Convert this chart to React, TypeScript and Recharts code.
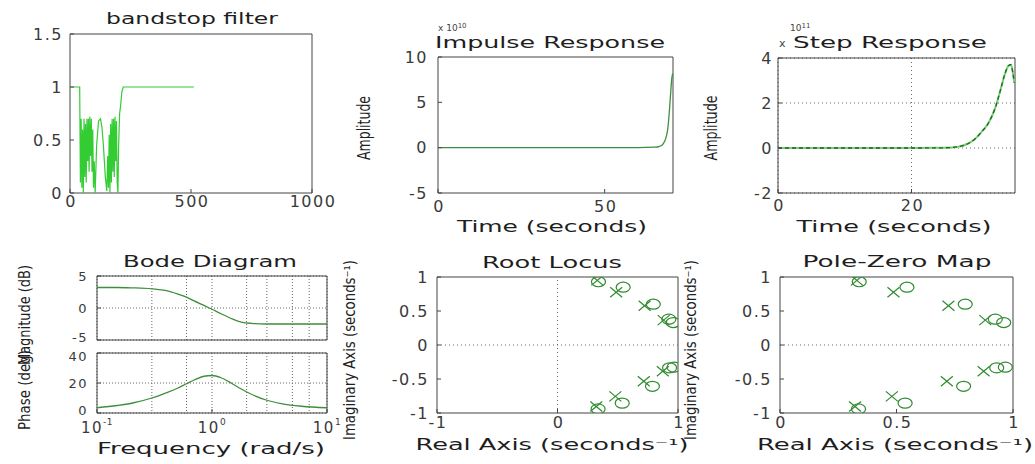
import React from 'react';
import {
  LineChart, Line, ScatterChart, Scatter,
  XAxis, YAxis, CartesianGrid, ReferenceArea, ReferenceLine,
} from 'recharts';

// ── Data ────────────────────────────────────────────────────────────────────

// bandstop filter: sample index vs |H|
const bandstopN = [0, 40, 43, 46, 49, 52, 55, 58, 61, 64, 67, 70, 73, 76, 79, 82, 85, 88, 91, 94, 97, 100, 104, 110, 118, 126, 132, 138, 146, 152, 156, 159, 162, 165, 168, 171, 174, 177, 180, 183, 186, 189, 192, 195, 198, 201, 205, 209, 214, 220, 512];
const bandstopMag = [1, 1, 0.1, 0.7, 0.05, 0.6, 0, 0.7, 0.15, 0.65, 0.1, 0.7, 0.3, 0.7, 0.2, 0.72, 0.35, 0.7, 0.2, 0.6, 0.05, 0.3, 0, 0.45, 0.68, 0.7, 0.62, 0.45, 0.15, 0.02, 0.35, 0.05, 0.55, 0, 0.65, 0.1, 0.7, 0.2, 0.7, 0.15, 0.72, 0.3, 0.68, 0.1, 0, 0.45, 0.75, 0.82, 0.95, 1, 1];
const bandstopXTicks = [0, 500, 1000];
const bandstopYTicks = [0, 0.5, 1, 1.5];

// impulse response (x 10^10)
const impulseT = [0, 20, 40, 60, 65, 66.5, 67.5, 68.3, 68.9, 69.3, 69.7, 70.1, 70.4];
const impulseAmp = [0, 0, 0, 0.01, 0.05, 0.15, 0.4, 1.0, 2.0, 3.5, 5.5, 7.5, 8.2];
const impulseTTicks = [0, 50];
const impulseAmpTicks = [-5, 0, 5, 10];

// step response (x 10^11)
const stepT = [0, 10, 20, 25, 27, 28.5, 29.5, 30.5, 31.5, 32.5, 33.3, 34.0, 34.5, 34.9, 35.2, 35.4];
const stepAmp = [0, 0, 0, 0.01, 0.06, 0.2, 0.4, 0.72, 1.1, 1.75, 2.55, 3.3, 3.65, 3.7, 3.3, 2.9];
const stepTTicks = [0, 20];
const stepAmpTicks = [-2, 0, 2, 4];

// bode diagram
const bodeW = [0.1, 0.15, 0.2, 0.3, 0.4, 0.5, 0.6, 0.7, 0.85, 1, 1.2, 1.5, 1.8, 2.2, 3, 4, 6, 10];
const bodeMag = [3.2, 3.2, 3.15, 3.0, 2.7, 2.2, 1.7, 1.1, 0.4, -0.2, -0.9, -1.7, -2.2, -2.4, -2.5, -2.5, -2.5, -2.5];
const bodePhase = [3.5, 5, 6.5, 10, 13.5, 16.5, 19.5, 22, 24.5, 25, 23.5, 19.5, 16, 12.5, 8.5, 6.3, 4.5, 3.5];
const bodeWTicks = [0.1, 1, 10];
const bodeWGrid = [0.1, 0.2, 0.3, 0.4, 0.5, 0.6, 0.7, 0.8, 0.9, 1, 2, 3, 4, 5, 6, 7, 8, 9, 10];
const bodeMagTicks = [-5, 0, 5];
const bodePhaseTicks = [0, 20, 40];

// poles and zeros
const poleRe = [0.33, 0.487, 0.723, 0.881, 0.874, 0.716, 0.48, 0.322];
const poleIm = [0.95, 0.775, 0.578, 0.366, -0.385, -0.533, -0.756, -0.904];
const zeroRe = [0.34, 0.545, 0.795, 0.924, 0.96, 0.93, 0.967, 0.788, 0.537, 0.337];
const zeroIm = [0.93, 0.85, 0.6, 0.38, 0.33, -0.336, -0.326, -0.607, -0.855, -0.94];
const rlReTicks = [-1, 0, 1];
const pzReTicks = [0, 0.5, 1];
const imTicks = [-1, -0.5, 0, 0.5, 1];

const bandstopData = bandstopN.map((n, i) => ({ x: n, y: bandstopMag[i] }));
const impulseData = impulseT.map((t, i) => ({ x: t, y: impulseAmp[i] }));
const stepData = stepT.map((t, i) => ({ x: t, y: stepAmp[i] }));
const bodeData = bodeW.map((w, i) => ({ w, mag: bodeMag[i], phase: bodePhase[i] }));
const poles = poleRe.map((re, i) => ({ re, im: poleIm[i] }));
const zeros = zeroRe.map((re, i) => ({ re, im: zeroIm[i] }));

// ── Layout / styles ─────────────────────────────────────────────────────────

const PAGE_W = 1035;
const PAGE_H = 464;
const FONT = "'DejaVu Sans', sans-serif";
const TEXT = '#1e1e1e';
const TICK = '#3a3a3a';
const FRAME = '#454545';
const GRID = '#666';
const GREEN = '#33cc33';
const DARKGREEN = '#3d8f3d';
const MARK = '#2f8a2f';

// plot boxes in page pixels
const BOX = {
  band: { l: 70, r: 312, t: 34, b: 193 },
  imp: { l: 438, r: 673, t: 57, b: 193 },
  step: { l: 778, r: 1015, t: 58, b: 193 },
  mag: { l: 97, r: 327, t: 276, b: 340 },
  phase: { l: 97, r: 327, t: 353, b: 413 },
  rl: { l: 437, r: 678, t: 277, b: 413 },
  pz: { l: 780, r: 1013, t: 277, b: 413 },
};

const marginOf = (b: { r: number; t: number }) => ({ top: b.t, right: PAGE_W - b.r, left: 0, bottom: 0 });

// MATLAB style: short ticks pointing into the box
const IN_TICK = -4;
const tickLine = { stroke: FRAME, strokeWidth: 1 };
const tickText = { fontFamily: FONT, fontSize: 16, fill: TICK, letterSpacing: 1.5 };

function LeftTick({ x, y, payload }: any) {
  return (
    <text x={x} y={y} textAnchor="end" dominantBaseline="central" {...tickText}>
      {String(payload.value)}
    </text>
  );
}

// bode y ticks are squeezed between two stacked axes: smaller, and the
// labels at the shared edge are nudged apart
function BodeTick({ x, y, payload, index, visibleTicksCount, edge }: any) {
  let dy = 0;
  if (edge === 'bottom' && index === 0) dy = -3;
  if (edge === 'top' && index === visibleTicksCount - 1) dy = 3;
  if (edge === 'top' && index === 0) dy = -3;
  return (
    <text x={x} y={y + dy} textAnchor="end" dominantBaseline="central" {...tickText} fontSize={13}>
      {String(payload.value)}
    </text>
  );
}

function BottomTick({ x, y, payload }: any) {
  return (
    <text x={x + 1} y={y} textAnchor="middle" dominantBaseline="central" {...tickText}>
      {String(payload.value)}
    </text>
  );
}

const decadeExp: Record<string, string> = { '0.1': '-1', '1': '0', '10': '1' };

function LogTick({ x, y, payload }: any) {
  return (
    <text x={x} y={y} textAnchor="middle" dominantBaseline="central" {...tickText} fontSize={15}>
      10<tspan dy={-6} fontSize={9} letterSpacing={0.5}>{decadeExp[String(payload.value)]}</tspan>
    </text>
  );
}

const NoTick = () => <g />;

function ZeroMark({ cx, cy }: any) {
  return <ellipse cx={cx} cy={cy} rx={7} ry={5} fill="none" stroke={MARK} strokeWidth={1.2} />;
}

function PoleMark({ cx, cy }: any) {
  return (
    <g stroke={MARK} strokeWidth={1.2}>
      <line x1={cx - 6} y1={cy - 5} x2={cx + 6} y2={cy + 5} />
      <line x1={cx - 6} y1={cy + 5} x2={cx + 6} y2={cy - 5} />
    </g>
  );
}

const layer: React.CSSProperties = { position: 'absolute', left: 0, top: 0 };

// ── Panels ──────────────────────────────────────────────────────────────────

function Bandstop() {
  const b = BOX.band;
  return (
    <div style={layer}>
      <LineChart width={PAGE_W} height={PAGE_H} data={bandstopData} margin={marginOf(b)}>
        <XAxis type="number" dataKey="x" domain={[0, 1000]} ticks={bandstopXTicks} allowDataOverflow
          height={PAGE_H - b.b} axisLine={false} tickLine={tickLine} tickSize={IN_TICK} tickMargin={12} tick={BottomTick} />
        <YAxis type="number" domain={[0, 1.5]} ticks={bandstopYTicks} allowDataOverflow
          width={b.l} axisLine={false} tickLine={tickLine} tickSize={IN_TICK} tickMargin={11} tick={LeftTick} />
        <ReferenceArea x1={0} x2={1000} y1={0} y2={1.5} fill="none" stroke={FRAME} strokeWidth={1} />
        <Line type="linear" dataKey="y" stroke={GREEN} strokeWidth={1.2} dot={false} isAnimationActive={false} />
      </LineChart>
    </div>
  );
}

function Impulse() {
  const b = BOX.imp;
  return (
    <div style={layer}>
      <LineChart width={PAGE_W} height={PAGE_H} data={impulseData} margin={marginOf(b)}>
        <XAxis type="number" dataKey="x" domain={[0, 70.5]} ticks={impulseTTicks} allowDataOverflow
          height={PAGE_H - b.b} axisLine={false} tickLine={tickLine} tickSize={IN_TICK} tickMargin={17} tick={BottomTick} />
        <YAxis type="number" domain={[-5, 10]} ticks={impulseAmpTicks} allowDataOverflow
          width={b.l} axisLine={false} tickLine={tickLine} tickSize={IN_TICK} tickMargin={14} tick={LeftTick} />
        <ReferenceArea x1={0} x2={70.5} y1={-5} y2={10} fill="none" stroke={FRAME} strokeWidth={1} />
        <Line type="monotone" dataKey="y" stroke={DARKGREEN} strokeWidth={1.3} dot={false} isAnimationActive={false} />
      </LineChart>
    </div>
  );
}

function Step() {
  const b = BOX.step;
  return (
    <div style={layer}>
      <LineChart width={PAGE_W} height={PAGE_H} data={stepData} margin={marginOf(b)}>
        <CartesianGrid stroke={GRID} strokeDasharray="1 3" verticalValues={stepTTicks} horizontalValues={stepAmpTicks} />
        <XAxis type="number" dataKey="x" domain={[0, 35.5]} ticks={stepTTicks} allowDataOverflow
          height={PAGE_H - b.b} axisLine={false} tickLine={tickLine} tickSize={IN_TICK} tickMargin={16} tick={BottomTick} />
        <YAxis type="number" domain={[-2, 4]} ticks={stepAmpTicks} allowDataOverflow
          width={b.l} axisLine={false} tickLine={tickLine} tickSize={IN_TICK} tickMargin={9} tick={LeftTick} />
        <ReferenceArea x1={0} x2={35.5} y1={-2} y2={4} fill="none" stroke={FRAME} strokeWidth={1} />
        <Line type="monotone" dataKey="y" stroke="#6fd36f" strokeWidth={2} dot={false} isAnimationActive={false} />
        <Line type="monotone" dataKey="y" stroke="#2c5e2c" strokeWidth={1.3} strokeDasharray="4 3" dot={false} isAnimationActive={false} />
      </LineChart>
    </div>
  );
}

function BodeMag() {
  const b = BOX.mag;
  return (
    <div style={layer}>
      <LineChart width={PAGE_W} height={PAGE_H} data={bodeData} margin={marginOf(b)}>
        <CartesianGrid stroke={GRID} strokeDasharray="1 2" verticalValues={bodeWGrid} horizontalValues={bodeMagTicks} />
        <XAxis type="number" dataKey="w" scale="log" domain={[0.1, 10]} ticks={bodeWTicks} allowDataOverflow
          height={PAGE_H - b.b} axisLine={false} tickLine={false} tickSize={0} tick={NoTick} />
        <YAxis type="number" domain={[-5, 5]} ticks={bodeMagTicks} allowDataOverflow
          width={b.l} axisLine={false} tickLine={tickLine} tickSize={IN_TICK} tickMargin={13}
          tick={(p: any) => <BodeTick {...p} edge="bottom" />} />
        <ReferenceArea x1={0.1} x2={10} y1={-5} y2={5} fill="none" stroke={FRAME} strokeWidth={1} />
        <Line type="monotone" dataKey="mag" stroke={DARKGREEN} strokeWidth={1.3} dot={false} isAnimationActive={false} />
      </LineChart>
    </div>
  );
}

function BodePhase() {
  const b = BOX.phase;
  return (
    <div style={layer}>
      <LineChart width={PAGE_W} height={PAGE_H} data={bodeData} margin={marginOf(b)}>
        <CartesianGrid stroke={GRID} strokeDasharray="1 2" verticalValues={bodeWGrid} horizontalValues={bodePhaseTicks} />
        <XAxis type="number" dataKey="w" scale="log" domain={[0.1, 10]} ticks={bodeWTicks} allowDataOverflow
          height={PAGE_H - b.b} axisLine={false} tickLine={tickLine} tickSize={IN_TICK} tickMargin={19} tick={LogTick} />
        <YAxis type="number" domain={[0, 40]} ticks={bodePhaseTicks} allowDataOverflow
          width={b.l} axisLine={false} tickLine={tickLine} tickSize={IN_TICK} tickMargin={13}
          tick={(p: any) => <BodeTick {...p} edge="top" />} />
        <ReferenceArea x1={0.1} x2={10} y1={0} y2={40} fill="none" stroke={FRAME} strokeWidth={1} />
        <Line type="monotone" dataKey="phase" stroke={DARKGREEN} strokeWidth={1.3} dot={false} isAnimationActive={false} />
      </LineChart>
    </div>
  );
}

function PoleZeroPlot({ box, reDomain, reTicks, showImAxis }: any) {
  const b = box;
  return (
    <div style={layer}>
      <ScatterChart width={PAGE_W} height={PAGE_H} margin={marginOf(b)}>
        <XAxis type="number" dataKey="re" domain={reDomain} ticks={reTicks} allowDataOverflow
          height={PAGE_H - b.b} axisLine={false} tickLine={tickLine} tickSize={IN_TICK} tickMargin={13} tick={BottomTick} />
        <YAxis type="number" dataKey="im" domain={[-1, 1]} ticks={imTicks} allowDataOverflow
          width={b.l} axisLine={false} tickLine={tickLine} tickSize={IN_TICK} tickMargin={12} tick={LeftTick} />
        <ReferenceArea x1={reDomain[0]} x2={reDomain[1]} y1={-1} y2={1} fill="none" stroke={FRAME} strokeWidth={1} />
        <ReferenceLine y={0} stroke={GRID} strokeDasharray="1 3" />
        {showImAxis && <ReferenceLine x={0} stroke={GRID} strokeDasharray="1 3" />}
        <Scatter data={zeros} shape={ZeroMark} isAnimationActive={false} />
        <Scatter data={poles} shape={PoleMark} isAnimationActive={false} />
      </ScatterChart>
    </div>
  );
}

// ── Text overlay (titles, axis labels) ──────────────────────────────────────

function Labels() {
  const t = { textAnchor: 'middle' as const, lengthAdjust: 'spacingAndGlyphs' as const };
  return (
    <svg width={PAGE_W} height={PAGE_H} style={layer} fontFamily={FONT} fill={TEXT}>
      {/* titles */}
      <text x={192} y={24} fontSize={15} textLength={172} {...t}>bandstop filter</text>
      <text x={550} y={48} fontSize={15} textLength={230} {...t}>Impulse Response</text>
      <text x={890} y={48} fontSize={15} textLength={194} {...t}>Step Response</text>
      <text x={210} y={267} fontSize={15} textLength={174} {...t}>Bode Diagram</text>
      <text x={552} y={268} fontSize={15} textLength={140} {...t}>Root Locus</text>
      <text x={897} y={267} fontSize={15} textLength={189} {...t}>Pole-Zero Map</text>

      {/* axis exponent labels, tucked just above the titles */}
      <text x={438} y={31} fontSize={9} fill="#444">x 10<tspan dy={-3} fontSize={7}>10</tspan></text>
      <text x={779} y={47} fontSize={11} fill="#444">x</text>
      <text x={790} y={31} fontSize={9} fill="#444">10<tspan dy={-3} fontSize={7}>11</tspan></text>

      {/* x labels */}
      <text x={552} y={232} fontSize={16} textLength={190} {...t}>Time (seconds)</text>
      <text x={894} y={232} fontSize={16} textLength={195} {...t}>Time (seconds)</text>
      <text x={211} y={454} fontSize={16} textLength={228} {...t}>Frequency  (rad/s)</text>
      <text x={552} y={450} fontSize={16} textLength={273} {...t}>Real Axis (seconds⁻¹)</text>
      <text x={895} y={450} fontSize={16} textLength={276} {...t}>Real Axis (seconds⁻¹)</text>

      {/* y labels */}
      <text transform="translate(370,128) rotate(-90)" fontSize={17} textLength={64} {...t}>Amplitude</text>
      <text transform="translate(717,128) rotate(-90)" fontSize={17} textLength={65} {...t}>Amplitude</text>
      <text transform="translate(30,430) rotate(-90)" fontSize={15} textLength={80} textAnchor="start" lengthAdjust="spacingAndGlyphs">Phase (deg)</text>
      <text transform="translate(30,265) rotate(-90)" fontSize={15} textLength={100} textAnchor="end" lengthAdjust="spacingAndGlyphs">Magnitude (dB)</text>
      <text transform="translate(355,350) rotate(-90)" fontSize={15} textLength={180} {...t}>Imaginary Axis (seconds⁻¹)</text>
      <text transform="translate(696,350) rotate(-90)" fontSize={15} textLength={180} {...t}>Imaginary Axis (seconds⁻¹)</text>
    </svg>
  );
}

export default function App() {
  return (
    <div style={{ position: 'absolute', left: 0, top: 0, width: PAGE_W, height: PAGE_H, overflow: 'hidden', background: '#fff' }}>
      <Bandstop />
      <Impulse />
      <Step />
      <BodeMag />
      <BodePhase />
      <PoleZeroPlot box={BOX.rl} reDomain={[-1, 1]} reTicks={rlReTicks} showImAxis />
      <PoleZeroPlot box={BOX.pz} reDomain={[0, 1]} reTicks={pzReTicks} showImAxis={false} />
      <Labels />
    </div>
  );
}
